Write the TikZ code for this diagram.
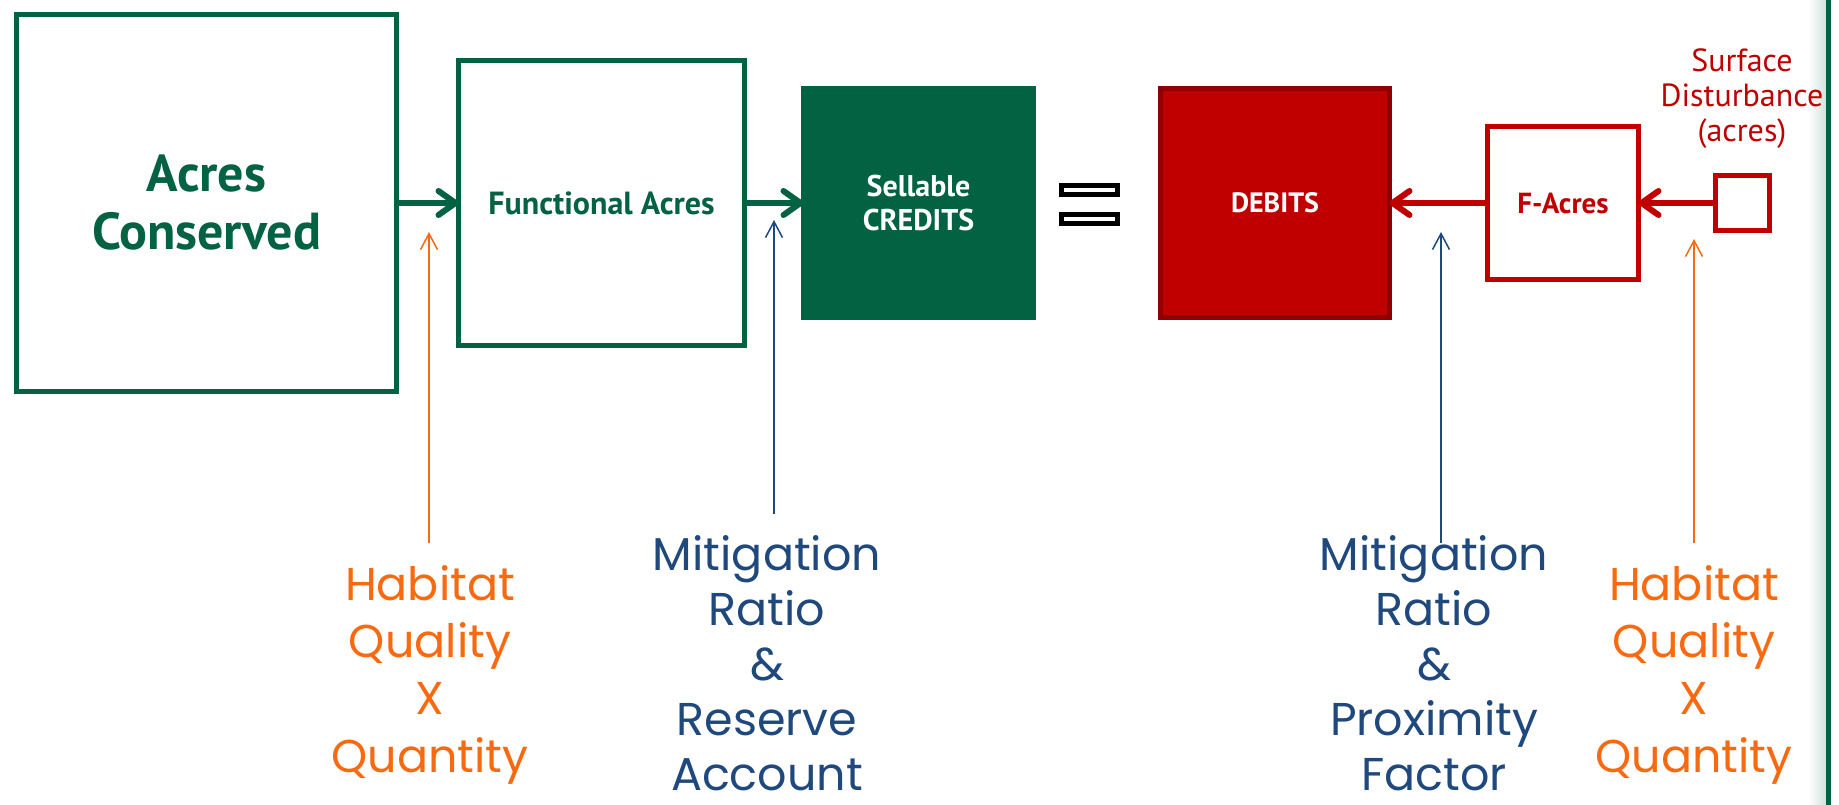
\documentclass[tikz,border=0pt]{standalone}
\usepackage{fontspec}
\setmainfont{PT Sans}
\newfontfamily\boxfont{PT Sans}
\newfontfamily\lblfont{Poppins}
\usetikzlibrary{arrows.meta}
\definecolor{cgreen}{RGB}{2,98,66}
\definecolor{cred}{HTML}{C00000}
\definecolor{cdarkred}{HTML}{8E0000}
\definecolor{corange}{HTML}{F96A10}
\definecolor{cblue}{HTML}{1F497D}
\begin{document}
\begin{tikzpicture}[x=1pt,y=-1pt,
  box/.style={rectangle, inner sep=0pt, outer sep=0pt, line width=5pt, align=center},
  greenbox/.style={box, draw=cgreen, fill=white, text=cgreen},
  greenfill/.style={box, draw=cgreen, fill=cgreen, text=white},
  redfill/.style={box, draw=cdarkred, fill=cred, text=white},
  redbox/.style={box, draw=cred, fill=white, text=cred},
  eqbar/.style={rectangle, inner sep=0pt, outer sep=0pt, line width=5pt, draw=black, fill=white, minimum width=56pt, minimum height=9pt},
  garrow/.style={draw=cgreen, line width=6pt, -{Straight Barb[length=17pt,width=24pt,round]}},
  rarrow/.style={draw=cred, line width=6pt, -{Straight Barb[length=17pt,width=24pt,round]}},
  oarrow/.style={draw=corange, line width=1.5pt, -{Straight Barb[length=16pt,width=17pt]}},
  barrow/.style={draw=cblue, line width=1.5pt, -{Straight Barb[length=16pt,width=17pt]}},
  orangelbl/.style={inner sep=0pt, align=center, text=corange, font=\lblfont\fontsize{46}{57.3}\selectfont},
  bluelbl/.style={inner sep=0pt, align=center, text=cblue, font=\lblfont\fontsize{46}{55}\selectfont},
]
\useasboundingbox (0,0) rectangle (1839,805);
\fill[white] (0,0) rectangle (1839,805);
% right edge decoration
\shade[left color=white, right color=cgreen!18] (1808,0) rectangle (1826,805);
\draw[cgreen, line width=5pt] (1828,0) -- (1828,805);

% boxes
\node[greenbox, minimum width=380pt, minimum height=377pt,
      font=\boxfont\bfseries\fontsize{52}{58}\selectfont] (acres) at (206.5,203) {Acres\\Conserved};
\node[greenbox, minimum width=286pt, minimum height=284pt,
      font=\boxfont\bfseries\fontsize{32}{38}\selectfont] (func) at (601.5,203) {Functional Acres};
\node[greenfill, minimum width=230pt, minimum height=229pt,
      font=\boxfont\bfseries\fontsize{30}{35}\selectfont] (sell) at (918.5,203) {Sellable\\CREDITS};
\node[eqbar] (eqa) at (1089.5,190) {};
\node[eqbar] (eqb) at (1089.5,219) {};
\node[redfill, minimum width=229pt, minimum height=229pt,
      font=\boxfont\bfseries\fontsize{28}{34}\selectfont] (debits) at (1275,203) {DEBITS};
\node[redbox, minimum width=151pt, minimum height=152pt,
      font=\boxfont\bfseries\fontsize{29}{34}\selectfont] (facres) at (1563,203) {F-Acres};
\node[redbox, minimum width=54pt, minimum height=55pt] (surf) at (1742.5,203) {};
\node[inner sep=0pt, align=center, text=cred, anchor=base,
      font=\boxfont\fontsize{32}{35}\selectfont] (surflbl) at (1742,142) {Surface\\Disturbance\\(acres)};

% main arrows
\draw[garrow] (acres.east) -- (func.west);
\draw[garrow] (func.east) -- (sell.west);
\draw[rarrow] (facres.west) -- (debits.east);
\draw[rarrow] (surf.west) -- (facres.east);

% bottom labels (anchor base = last line baseline)
\node[orangelbl, anchor=base] (hq1) at (430,772) {Habitat\\Quality\\X\\Quantity};
\node[bluelbl, anchor=base] (mr1) at (767,790) {Mitigation\\Ratio\\\&\\Reserve\\Account};
\node[bluelbl, anchor=base] (mr2) at (1434,790) {Mitigation\\Ratio\\\&\\Proximity\\Factor};
\node[orangelbl, anchor=base] (hq2) at (1694,772) {Habitat\\Quality\\X\\Quantity};

% thin arrows
\coordinate (hq1tail) at (429,543);
\coordinate (hq1tip) at (429,232);
\coordinate (mr1tail) at (774,514);
\coordinate (mr1tip) at (774,220);
\coordinate (mr2tail) at (1441,543);
\coordinate (mr2tip) at (1441,232);
\coordinate (hq2tail) at (1694,543);
\coordinate (hq2tip) at (1694,239);
\draw[oarrow] (hq1tail) -- (hq1tip);
\draw[barrow] (mr1tail) -- (mr1tip);
\draw[barrow] (mr2tail) -- (mr2tip);
\draw[oarrow] (hq2tail) -- (hq2tip);
\end{tikzpicture}
\end{document}
